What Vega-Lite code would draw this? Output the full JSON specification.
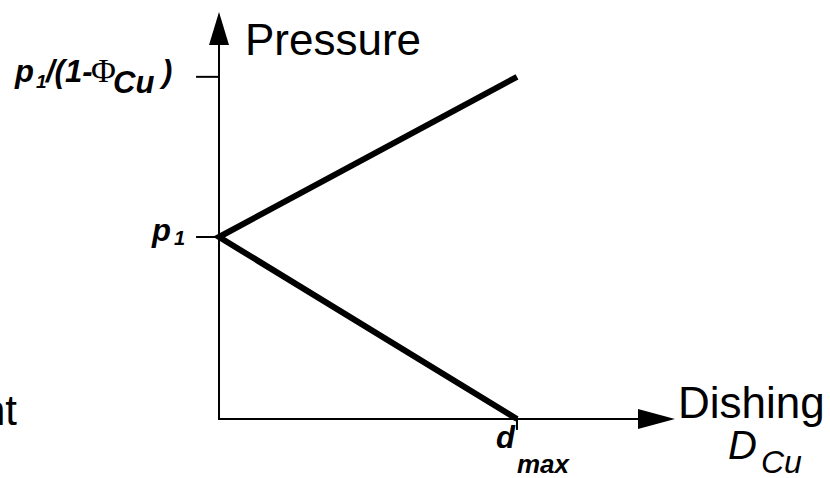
{
  "$schema": "https://vega.github.io/schema/vega-lite/v6.json",
  "width": 830,
  "height": 478,
  "autosize": {"type": "none"},
  "padding": 0,
  "background": "white",
  "config": {
    "view": {"stroke": null},
    "text": {"font": "Liberation Sans", "color": "black", "baseline": "alphabetic", "align": "left"}
  },
  "encoding": {
    "x": {"field": "x", "type": "quantitative", "scale": {"domain": [-0.7349, 2.0503], "nice": false, "zero": false}, "axis": null},
    "y": {"field": "y", "type": "quantitative", "scale": {"domain": [-0.3242, 2.3022], "nice": false, "zero": false}, "axis": null}
  },
  "layer": [
    {
      "description": "Coordinate axes drawn as one L-shaped path",
      "data": {"values": [{"step": 1, "x": 1.5, "y": 0}, {"step": 2, "x": 0, "y": 0}, {"step": 3, "x": 0, "y": 2.16}]},
      "mark": {"type": "line", "color": "black", "strokeWidth": 2, "strokeJoin": "miter", "strokeCap": "butt"},
      "encoding": {"order": {"field": "step", "type": "quantitative"}}
    },
    {
      "description": "Arrowheads at the ends of both axes",
      "data": {"values": [{"head": "Dishing", "x": 1.468, "y": 0}, {"head": "Pressure", "x": 0, "y": 2.1456}]},
      "mark": {"type": "point", "filled": true, "color": "black", "opacity": 1, "strokeWidth": 0, "size": 1369},
      "encoding": {
        "shape": {
          "field": "head", "type": "nominal",
          "scale": {"domain": ["Dishing", "Pressure"], "range": ["M-1,-0.54L1,0L-1,0.54Z", "M0,-0.892L0.54,0.892L-0.54,0.892Z"]},
          "legend": null
        }
      }
    },
    {
      "description": "Tick marks for p1, p1/(1-Phi) and d_max",
      "data": {"values": [
        {"x": -0.077, "y": 1, "x2": 0, "y2": 1},
        {"x": -0.077, "y": 1.88, "x2": 0, "y2": 1.88},
        {"x": 1, "y": 0, "x2": 1, "y2": -0.06}
      ]},
      "mark": {"type": "rule", "color": "black", "strokeWidth": 2},
      "encoding": {"x2": {"field": "x2"}, "y2": {"field": "y2"}}
    },
    {
      "description": "Pressure rising to p1/(1-Phi) and falling to zero at d_max",
      "data": {"values": [{"step": 1, "x": 1, "y": 1.88}, {"step": 2, "x": 0, "y": 1}, {"step": 3, "x": 1, "y": 0}]},
      "mark": {"type": "line", "color": "black", "strokeWidth": 6, "strokeJoin": "miter", "strokeCap": "butt"},
      "encoding": {"order": {"field": "step", "type": "quantitative"}}
    },
    {
      "data": {"values": [{"x": 0, "y": 1.88, "label": "p"}]},
      "mark": {"type": "text", "fontSize": 31, "fontWeight": "bold", "fontStyle": "italic", "dx": -204, "dy": 5},
      "encoding": {"text": {"field": "label"}}
    },
    {
      "data": {"values": [{"x": 0, "y": 1.88, "label": "1"}]},
      "mark": {"type": "text", "fontSize": 19, "fontWeight": "bold", "fontStyle": "italic", "dx": -183, "dy": 11},
      "encoding": {"text": {"field": "label"}}
    },
    {
      "data": {"values": [{"x": 0, "y": 1.88, "label": "/(1-"}]},
      "mark": {"type": "text", "fontSize": 31, "fontWeight": "bold", "fontStyle": "italic", "dx": -173, "dy": 5},
      "encoding": {"text": {"field": "label"}}
    },
    {
      "data": {"values": [{"x": 0, "y": 1.88, "label": "Φ"}]},
      "mark": {"type": "text", "font": "Liberation Serif", "fontSize": 34, "dx": -128, "dy": 5},
      "encoding": {"text": {"field": "label"}}
    },
    {
      "data": {"values": [{"x": 0, "y": 1.88, "label": "Cu"}]},
      "mark": {"type": "text", "fontSize": 31, "fontWeight": "bold", "fontStyle": "italic", "dx": -106, "dy": 16},
      "encoding": {"text": {"field": "label"}}
    },
    {
      "data": {"values": [{"x": 0, "y": 1.88, "label": ")"}]},
      "mark": {"type": "text", "fontSize": 31, "fontWeight": "bold", "fontStyle": "italic", "dx": -57, "dy": 5},
      "encoding": {"text": {"field": "label"}}
    },
    {
      "data": {"values": [{"x": 0, "y": 1, "label": "p"}]},
      "mark": {"type": "text", "fontSize": 31, "fontWeight": "bold", "fontStyle": "italic", "dx": -67, "dy": 4},
      "encoding": {"text": {"field": "label"}}
    },
    {
      "data": {"values": [{"x": 0, "y": 1, "label": "1"}]},
      "mark": {"type": "text", "fontSize": 20, "fontWeight": "bold", "fontStyle": "italic", "dx": -45, "dy": 8},
      "encoding": {"text": {"field": "label"}}
    },
    {
      "data": {"values": [{"x": 1, "y": 0, "label": "d"}]},
      "mark": {"type": "text", "fontSize": 31, "fontWeight": "bold", "fontStyle": "italic", "dx": -21, "dy": 29},
      "encoding": {"text": {"field": "label"}}
    },
    {
      "data": {"values": [{"x": 1, "y": 0, "label": "max"}]},
      "mark": {"type": "text", "fontSize": 26, "fontWeight": "bold", "fontStyle": "italic", "dx": 0, "dy": 54},
      "encoding": {"text": {"field": "label"}}
    },
    {
      "data": {"values": [{"x": 0, "y": 2.236, "label": "Pressure"}]},
      "mark": {"type": "text", "fontSize": 44, "dx": 26, "dy": 43},
      "encoding": {"text": {"field": "label"}}
    },
    {
      "data": {"values": [{"x": 1.53, "y": 0, "label": "Dishing"}]},
      "mark": {"type": "text", "fontSize": 44, "dx": 3, "dy": -1},
      "encoding": {"text": {"field": "label"}}
    },
    {
      "data": {"values": [{"x": 1.53, "y": 0, "label": "D"}]},
      "mark": {"type": "text", "fontSize": 40, "fontStyle": "italic", "dx": 53, "dy": 40},
      "encoding": {"text": {"field": "label"}}
    },
    {
      "data": {"values": [{"x": 1.53, "y": 0, "label": "Cu"}]},
      "mark": {"type": "text", "fontSize": 32, "fontStyle": "italic", "dx": 86, "dy": 54},
      "encoding": {"text": {"field": "label"}}
    },
    {
      "data": {"values": [{"x": -0.678, "y": -0.033, "label": "nt"}]},
      "mark": {"type": "text", "fontSize": 42, "align": "right"},
      "encoding": {"text": {"field": "label"}}
    }
  ]
}
